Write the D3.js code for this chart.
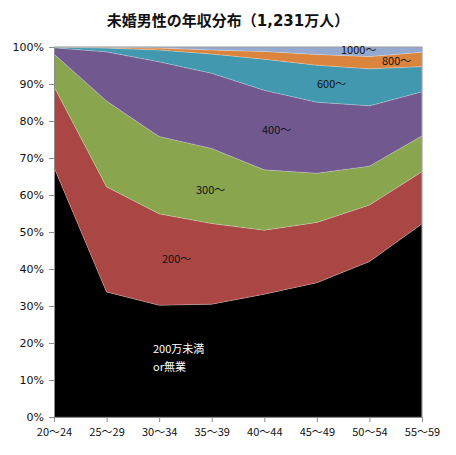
<!DOCTYPE html>
<html lang="ja">
<head>
<meta charset="utf-8">
<title>未婚男性の年収分布</title>
<script src="https://cdn.jsdelivr.net/npm/d3@7"></script>
<style>
  body { margin: 0; background: #fff; }
  svg { font-family: "Noto Sans CJK JP", "DejaVu Sans", sans-serif; }
  .axis path, .axis line { stroke: #8c8c8c; }
  .axis text { fill: #111; font-size: 11px; font-family: "DejaVu Sans", sans-serif; }
</style>
</head>
<body>
<script>
// age groups along the x axis
var ages = ["20～24","25～29","30～34","35～39","40～44","45～49","50～54","55～59"];
// income bands, bottom to top (share in %)
var bands = ["200万未満 or無業","200～","300～","400～","600～","800～","1000～"];
var under200 = [67.5, 33.8, 30.2, 30.5, 33.2, 36.3, 42.0, 52.2];
var from200  = [21.8, 28.4, 24.7, 21.8, 17.3, 16.3, 15.3, 14.1];
var from300  = [ 8.8, 23.2, 20.9, 20.3, 16.3, 13.3, 10.5,  9.7];
var from400  = [ 1.7, 13.3, 20.2, 20.3, 21.5, 19.2, 16.3, 11.9];
var from600  = [ 0.2,  1.0,  3.2,  5.2,  8.4, 10.0, 10.0,  6.8];
var from800  = [ 0.0,  0.2,  0.5,  1.1,  2.1,  2.9,  3.3,  3.9];
var from1000 = [ 0.0,  0.1,  0.3,  0.8,  1.2,  2.0,  2.6,  1.4];
var colors = ["#000000","#aa4643","#89a54e","#71588f","#4198af","#db843d","#93a9cf"];
var yTicks = [0,10,20,30,40,50,60,70,80,90,100];

var series = [under200, from200, from300, from400, from600, from800, from1000];

var W = 456, H = 455;
var margin = {top: 47, right: 34, bottom: 38, left: 54};
var width = W - margin.left - margin.right;
var height = H - margin.top - margin.bottom;

var svg = d3.select("body").append("svg").attr("width", W).attr("height", H);

// title
var title = svg.append("text")
    .attr("x", W / 2).attr("y", 26)
    .attr("text-anchor", "middle")
    .style("font-size", "15px").style("font-weight", "bold").style("fill", "#111");
title.append("tspan").text("未婚男性の年収分布（");
title.append("tspan").style("font-family", "'DejaVu Sans', sans-serif").text("1,231");
title.append("tspan").text("万人）");

var g = svg.append("g").attr("transform", "translate(" + margin.left + "," + margin.top + ")");

var x = d3.scalePoint().domain(ages).range([0, width]);
var y = d3.scaleLinear().domain([0, 100]).range([height, 0]);

// build rows for the stack
var rows = ages.map(function (a, i) {
  var r = {age: a};
  bands.forEach(function (b, k) { r[b] = series[k][i]; });
  return r;
});
var stack = d3.stack().keys(bands).offset(d3.stackOffsetExpand);
var layers = stack(rows);

var area = d3.area()
    .x(function (d) { return x(d.data.age); })
    .y0(function (d) { return y(d[0] * 100); })
    .y1(function (d) { return y(d[1] * 100); });

g.selectAll(".layer")
    .data(layers)
    .enter().append("path")
    .attr("class", "layer")
    .attr("d", area)
    .attr("fill", function (d, i) { return colors[i]; })
    .attr("stroke", "rgba(255,255,255,0.35)")
    .attr("stroke-width", 0.6);

// plot frame (top and right)
g.append("path")
    .attr("d", "M0,0H" + width + "V" + height)
    .attr("fill", "none").attr("stroke", "#999").attr("stroke-width", 1);

// axes
g.append("g").attr("class", "axis")
    .call(d3.axisLeft(y).tickValues(yTicks).tickSize(5).tickPadding(5)
      .tickFormat(function (d) { return d + "%"; }));

g.append("g").attr("class", "axis")
    .attr("transform", "translate(0," + height + ")")
    .call(d3.axisBottom(x).tickSize(5).tickPadding(6))
    .selectAll("text").style("font-family", "'Noto Sans CJK JP', sans-serif");

// band labels
function label(tx, ty, txt, fill) {
  g.append("text").attr("x", tx - margin.left).attr("y", ty - margin.top)
    .attr("dy", "0.35em")
    .style("font-size", "11px").style("fill", fill || "#111")
    .text(txt);
}
label(341, 50, "1000～");
label(382, 61, "800～");
label(317, 84, "600～");
label(262, 130, "400～");
label(196, 190, "300～");
label(162, 259, "200～");
label(153, 349, "200万未満", "#fff");
label(153, 367, "or無業", "#fff");
</script>
</body>
</html>
